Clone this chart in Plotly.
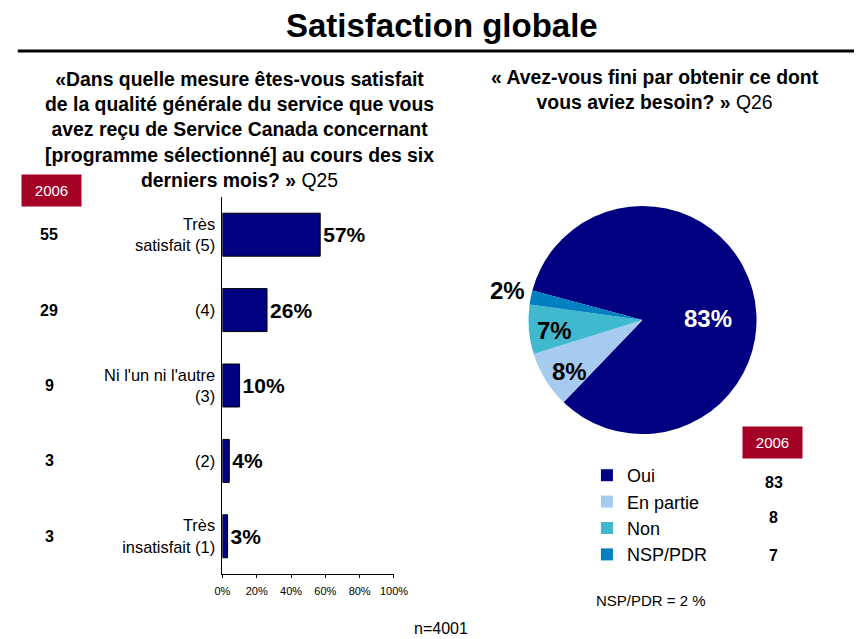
import plotly.graph_objects as go

# --- data -------------------------------------------------------------
sat_labels = ["Très<br>satisfait (5)", "(4)", "Ni l'un ni l'autre<br>(3)", "(2)",
              "Très<br>insatisfait (1)"]
sat_values = [57, 26, 10, 4, 3]
sat_2006 = [55, 29, 9, 3, 3]

pie_labels = ["Oui", "En partie", "Non", "NSP/PDR"]
pie_values = [83, 8, 7, 2]
pie_2006 = [83, 8, 7]

x_ticks = [0, 20, 40, 60, 80, 100]
x_tick_text = [f"{t}%" for t in x_ticks]

# --- styling ------------------------------------------------------------
W, H = 868, 639
SANS = "Liberation Sans, Arial"
NAVY = "#000080"
RED = "#A50026"
pie_colors = ["#000080", "#A6CAF0", "#40B8CE", "#0080C0"]


def px(x):
    return x / W


def py(y):
    return 1 - y / H


def note(x, y, text, size, color="#000000", **kw):
    """Centred paper-space text."""
    d = dict(x=px(x), y=py(y), xref="paper", yref="paper", text=text,
             showarrow=False, xanchor="center", yanchor="middle",
             font=dict(family=SANS, size=size, color=color))
    d.update(kw)
    return d


fig = go.Figure()

fig.add_trace(go.Bar(
    x=sat_values, y=sat_labels, orientation="h",
    marker=dict(color=NAVY, line=dict(color="#000000", width=1)),
    width=0.57,
    text=[f"{v}%" for v in sat_values], textposition="outside",
    textfont=dict(family=SANS, size=21, color="#000000"),
    texttemplate="<b>%{text}</b>",
    cliponaxis=False, showlegend=False, hoverinfo="skip",
))

fig.add_trace(go.Pie(
    labels=pie_labels, values=pie_values, sort=False, direction="clockwise",
    rotation=-75, marker=dict(colors=pie_colors, line=dict(width=0)),
    textinfo="none", hoverinfo="skip",
    domain=dict(x=[px(534), px(768)], y=[py(437), py(203)]),
    showlegend=True,
))

annotations = [
    note(445, 25, "<b>Satisfaction globale</b>", 33),
    note(238, 129,
         "<b>«Dans quelle mesure êtes-vous satisfait<br>de la qualité générale du service que vous"
         "<br>avez reçu de Service Canada concernant<br>[programme sélectionné] au cours des six"
         "<br>derniers mois? »</b> Q25", 19.4, align="center"),
    note(664, 89, "<b>« Avez-vous fini par obtenir ce dont<br>vous aviez besoin? »</b> Q26",
         19.4, align="center"),
    # 2006 comparison column for the bars
    note(44.5, 190.5, "2006", 15, "#FFFFFF", bgcolor=RED, width=59, height=31, borderpad=0),
]
for lab, v in zip(sat_labels, sat_2006):
    annotations.append(dict(x=px(42.5), y=lab, xref="paper", yref="y",
                            xanchor="center", yanchor="middle",
                            text=f"<b>{v}</b>", showarrow=False,
                            font=dict(family=SANS, size=16, color="#000000")))

# pie slice labels
pie_label_pos = [(718, 318, "#FFFFFF"), (576, 371, "#000000"),
                 (561, 330, "#000000"), (512, 290, "#000000")]
for v, (lx, ly, c) in zip(pie_values, pie_label_pos):
    annotations.append(note(lx, ly, f"<b>{v}%</b>", 24, c))

# 2006 comparison column for the pie
annotations.append(note(784.5, 442.5, "2006", 15, "#FFFFFF", bgcolor=RED,
                        width=59, height=31, borderpad=0))
for v, ly in zip(pie_2006, [482, 517, 555]):
    annotations.append(note(785.5, ly, f"<b>{v}</b>", 16))

annotations.append(note(660, 600, f"NSP/PDR = {pie_values[3]} %", 15))
annotations.append(note(444, 628, "n=4001", 16))

fig.update_layout(
    width=W, height=H, margin=dict(l=0, r=0, t=0, b=0),
    paper_bgcolor="#FFFFFF", plot_bgcolor="#FFFFFF",
    annotations=annotations,
    shapes=[dict(type="line", xref="paper", yref="paper",
                 x0=px(10), x1=1, y0=py(51), y1=py(51),
                 line=dict(color="#000000", width=3))],
    xaxis=dict(domain=[px(220), px(396)], range=[0, 100], tickvals=x_ticks,
               ticktext=x_tick_text, showgrid=False, zeroline=False,
               showline=True, linecolor="#000000", linewidth=1,
               ticks="outside", ticklen=3, tickcolor="#000000",
               ticklabelstandoff=4,
               tickfont=dict(family=SANS, size=11, color="#000000")),
    yaxis=dict(domain=[py(574), py(197)], autorange="reversed",
               showgrid=False, zeroline=False, showline=True,
               linecolor="#000000", linewidth=1, ticks="",
               ticklabelstandoff=3,
               tickfont=dict(family=SANS, size=16.4, color="#000000")),
    legend=dict(x=px(594), y=py(457), xanchor="left", yanchor="top",
                font=dict(family=SANS, size=18, color="#000000"),
                bgcolor="rgba(0,0,0,0)", tracegroupgap=0),
    showlegend=True,
)

fig.write_html("out.html")
